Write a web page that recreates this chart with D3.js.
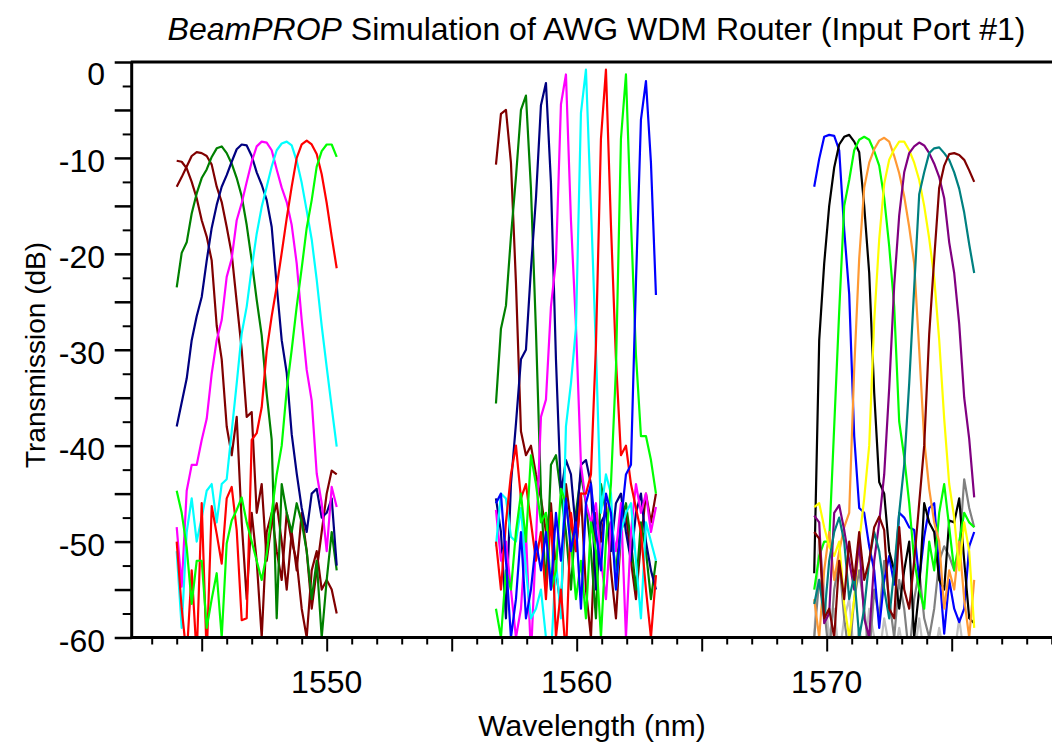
<!DOCTYPE html>
<html>
<head>
<meta charset="utf-8">
<script src="https://cdn.jsdelivr.net/npm/d3@7"></script>
<style>
  body { margin: 0; background: #fff; }
  svg { display: block; font-family: "Liberation Sans", Arial, sans-serif; }
</style>
</head>
<body>
<div id="chart"></div>
<script>
// Wavelength sample grids (nm), one per channel group
const wl1 = [1544.0,1544.2,1544.4,1544.6,1544.8,1545.0,1545.2,1545.4,1545.6,1545.8,1546.0,1546.2,1546.4,1546.6,1546.8,1547.0,1547.2,1547.4,1547.6,1547.8,1548.0,1548.2,1548.4,1548.6,1548.8,1549.0,1549.2,1549.4,1549.6,1549.8,1550.0,1550.2,1550.4]
const wl2 = [1556.77,1556.97,1557.17,1557.37,1557.57,1557.77,1557.97,1558.17,1558.37,1558.57,1558.77,1558.97,1559.17,1559.37,1559.57,1559.77,1559.97,1560.17,1560.37,1560.57,1560.77,1560.97,1561.17,1561.37,1561.57,1561.77,1561.97,1562.17,1562.37,1562.57,1562.77,1562.97,1563.17]
const wl3 = [1569.5,1569.7,1569.9,1570.1,1570.3,1570.5,1570.7,1570.9,1571.1,1571.3,1571.5,1571.7,1571.9,1572.1,1572.3,1572.5,1572.7,1572.9,1573.1,1573.3,1573.5,1573.7,1573.9,1574.1,1574.3,1574.5,1574.7,1574.9,1575.1,1575.3,1575.5,1575.7,1575.9]

// Group 1 transmission (dB)
const g1MaroonB = [-10.3,-10.4,-11.1,-12.5,-14.2,-16.5,-18.2,-20.7,-27.5,-31,-38,-41,-37,-48,-56,-47,-52,-60,-49,-47,-51,-54,-47,-50,-52,-57,-60,-53,-51,-55,-54,-55,-57.5]
const g1MaroonA = [-13,-12,-10.9,-9.8,-9.4,-9.5,-9.8,-10.7,-13,-14.6,-17.2,-20,-25,-30,-37,-36.5,-47,-44,-52,-48,-46,-50,-55,-49,-53,-47,-51,-57,-53,-49,-45,-42.6,-43]
const g1Green = [-23.5,-19.9,-18.8,-15.8,-13.7,-12.1,-11.2,-9.9,-9,-8.8,-9.5,-10.6,-12.1,-14,-17,-20.7,-24.8,-28.5,-34.6,-39.4,-58,-44,-47,-49,-46,-48,-51,-56,-52,-60,-54,-49,-53]
const g1Navy = [-38,-35.5,-33,-29,-26.5,-24.5,-20.7,-17.3,-14.9,-13,-11.8,-10.4,-9.1,-8.6,-8.7,-9.8,-11.5,-12.8,-14.4,-17.2,-23.3,-29,-32.4,-38.8,-42.9,-46.5,-49,-45,-44.5,-47.5,-47,-45.5,-52.5]
const g1Magenta = [-48.5,-54.7,-44.7,-42,-42,-39.4,-37.2,-32.5,-29,-26.9,-22.4,-20.5,-16.5,-14.7,-12.5,-10.4,-8.8,-8.3,-8.4,-9.2,-11.2,-13.1,-14.6,-17,-21,-26.9,-32.1,-35.3,-42.9,-46,-51,-44.3,-46.4]
const g1Cyan = [-51,-59,-49,-45.5,-50,-47.5,-44.7,-44,-48,-44,-43.5,-38.5,-33.5,-28.3,-25.5,-21.5,-17.9,-15.1,-13,-10.9,-9.2,-8.5,-8.3,-8.7,-10.3,-12.6,-15.5,-18.5,-22.7,-27.5,-31.8,-36,-40.1]
const g1Red = [-50,-57,-62,-53,-62,-46,-62,-46.3,-49.2,-52.3,-45.5,-44.3,-48.8,-58.2,-58,-39.4,-38.7,-36,-30.1,-26.5,-23.4,-19.9,-16.3,-13,-10,-8.6,-8.2,-8.6,-9.6,-11.7,-14.7,-18.2,-21.5]
const g1Lime = [-44.7,-47,-50.6,-56.5,-52,-52,-59,-56,-53.3,-60,-50.2,-47.8,-46.7,-45.4,-48,-50,-52,-54,-51.3,-47,-43,-40,-34.2,-30,-25.5,-21.5,-17.3,-14.4,-10.9,-9.3,-8.6,-8.6,-9.9]

// Group 2 transmission (dB)
const g2Maroon = [-10.7,-5.4,-5,-10.5,-23,-38.5,-41,-40,-43,-45.5,-49,-46,-53,-57,-44,-48,-51,-45,-55,-60,-47,-50,-46,-53,-58,-49,-47,-52,-56,-50,-45,-48,-45]
const g2Green = [-35.6,-27.8,-25.4,-18.2,-12,-5,-3.5,-13.2,-28,-45,-55,-42,-41,-45,-49,-55,-47,-43,-46,-51,-58,-44,-47,-49,-53,-48,-46,-50,-55,-48,-51,-56,-52]
const g2Navy = [-45.5,-49,-58,-44,-37.7,-31,-30,-21.6,-14.2,-4.5,-2.2,-12.6,-31,-45,-41.5,-43,-49,-42,-41.5,-44,-55,-48,-47,-51,-46,-45,-49,-52,-47,-45,-50,-53,-55]
const g2Magenta = [-46.7,-52,-50,-55,-60,-57,-49,-62,-50,-37,-35.2,-25.5,-20.7,-4.4,-1.3,-16.5,-27.5,-42,-46,-48,-46,-52,-56,-48,-51,-46,-60,-49,-44,-47,-45,-49,-46.4]
const g2Cyan = [-50.5,-45,-45.5,-49.5,-50,-46.5,-53,-58,-57,-55,-60,-62,-52,-58,-38,-33.5,-27.7,-5.3,-0.8,-15,-30,-47,-43,-45,-55,-49,-47,-46,-52,-58,-48,-50,-52]
const g2Red = [-50,-55,-48,-43,-40,-45.5,-44,-48,-52,-49,-56,-47,-60,-55,-62,-47,-51,-45,-45,-43,-29.5,-8,-0.8,-17,-31,-41,-40,-44,-46.5,-49,-55,-60,-53.5]
const g2Lime = [-57,-60,-53,-55,-49,-45,-50,-41,-44,-48,-47,-55,-53,-44.5,-46,-50,-56,-52,-58,-48,-51,-60,-50,-44,-32,-8,-1.3,-16.5,-30.5,-39,-39,-41.5,-45]
const g2Blue = [-46,-45,-52,-60,-56,-49,-58,-55,-50,-53,-49,-55,-47,-52,-45.5,-51,-48,-57,-46,-44,-49,-53,-45,-47,-55,-48,-43,-42,-23,-6,-2,-10.5,-24.3]

// Group 3 transmission (dB)
const g3Silver = [-60,-49.5,-55,-60,-57,-62,-58,-56,-62,-59,-62,-57,-60,-62,-58,-61,-62,-59,-62,-60,-62,-58,-62,-61,-62,-59,-62,-60,-62,-58,-62,-61,-62]
const g3Gray = [-60,-54,-57,-62,-55,-52,-58,-62,-56,-53,-57,-62,-55,-58,-52,-56,-60,-54,-57,-62,-56,-53,-58,-60,-57,-52,-50.5,-51.5,-53,-51,-43.5,-46.5,-48.5]
const g3Blue = [-13,-10.1,-7.8,-7.6,-7.7,-9.2,-17.5,-24.2,-39,-46.5,-47,-50.5,-53,-59,-54,-51.5,-54.5,-47,-47.5,-48.5,-48.8,-54,-49.5,-46.5,-46,-53,-59.6,-54,-57,-58.4,-57,-50.5,-49]
const g3Black = [-53.3,-29,-21,-15,-11,-8.6,-7.8,-7.6,-8.3,-9.4,-15,-22,-34.5,-43.8,-45,-51,-53,-57,-53,-50,-60,-55,-46,-48,-49,-54,-55,-47.8,-48,-45.5,-52,-58,-58.5]
const g3Lime = [-55,-51.5,-50,-50,-38,-26,-15,-12.3,-9.2,-8.1,-7.8,-8.1,-9.3,-10.8,-14.2,-19.2,-25.5,-37.5,-41.2,-46,-52,-55,-57,-50,-53,-47,-44,-48.5,-53,-50,-47,-48,-48.5]
const g3Orange = [-56,-60,-53,-49,-54,-51,-48.5,-47,-32,-20.5,-13.1,-10.5,-9.1,-8.2,-7.9,-8.3,-9.8,-11.6,-14,-17.2,-21,-30,-39.4,-44.5,-48,-50,-57,-53,-55,-50,-56,-60,-54]
const g3Yellow = [-46.4,-46,-48.5,-50.5,-51.5,-50,-56.5,-60,-56,-50,-45.5,-40,-27,-18.5,-12.7,-10.2,-9.1,-8.3,-8.3,-9.2,-10.5,-12.3,-15,-18.4,-22.5,-29,-37.2,-44,-47.5,-53,-48,-51,-59]
const g3Purple = [-47.3,-48,-58.5,-57.5,-47,-46.2,-48.8,-52,-55,-50,-58,-60,-52,-48,-43,-34,-23.3,-16,-11.5,-9.5,-8.8,-8.4,-8.7,-9.5,-10.6,-12,-14.2,-18.8,-22,-27.3,-35,-39.3,-45.4]
const g3Teal = [-56.5,-54,-58,-52,-49,-47.5,-50,-56,-53.5,-60,-57,-52,-49,-51,-55,-58,-53,-47,-42,-33.5,-23.5,-13.8,-11.5,-9.5,-9,-8.9,-9.5,-10.2,-11.5,-13.2,-15.7,-19,-22]
const g3Maroon = [-49,-49.7,-58,-57,-60,-52,-56,-50,-54,-49,-54,-52,-48.5,-47.4,-48.8,-57,-58,-48.5,-55,-57,-52,-46,-40,-28.4,-20.5,-13.1,-10.8,-9.6,-9.5,-9.7,-10.2,-11.3,-12.5]

// Axis tick labels
const xLabels = [1550, 1560, 1570]
const yLabels = [0, -10, -20, -30, -40, -50, -60]

const series = [
    { wl: wl1, db: g1MaroonB, color: "#800000" },
    { wl: wl1, db: g1MaroonA, color: "#800000" },
    { wl: wl1, db: g1Green, color: "#008000" },
    { wl: wl1, db: g1Navy, color: "#000080" },
    { wl: wl1, db: g1Magenta, color: "#ff00ff" },
    { wl: wl1, db: g1Cyan, color: "#00ffff" },
    { wl: wl1, db: g1Red, color: "#ff0000" },
    { wl: wl1, db: g1Lime, color: "#00ff00" },
    { wl: wl2, db: g2Maroon, color: "#800000" },
    { wl: wl2, db: g2Green, color: "#008000" },
    { wl: wl2, db: g2Navy, color: "#000080" },
    { wl: wl2, db: g2Magenta, color: "#ff00ff" },
    { wl: wl2, db: g2Cyan, color: "#00ffff" },
    { wl: wl2, db: g2Red, color: "#ff0000" },
    { wl: wl2, db: g2Lime, color: "#00ff00" },
    { wl: wl2, db: g2Blue, color: "#0000ff" },
    { wl: wl3, db: g3Silver, color: "#c0c0c0" },
    { wl: wl3, db: g3Gray, color: "#808080" },
    { wl: wl3, db: g3Blue, color: "#0000ff" },
    { wl: wl3, db: g3Black, color: "#000000" },
    { wl: wl3, db: g3Lime, color: "#00ff00" },
    { wl: wl3, db: g3Orange, color: "#ff9933" },
    { wl: wl3, db: g3Yellow, color: "#ffff00" },
    { wl: wl3, db: g3Purple, color: "#800080" },
    { wl: wl3, db: g3Teal, color: "#008080" },
    { wl: wl3, db: g3Maroon, color: "#800000" },
]

const width = 1052, height = 744
const plot = { left: 131.7, right: 1051.7, top: 62, bottom: 637.5 }

const xScale = d3.scaleLinear().domain([1542.2, 1579]).range([plot.left, plot.right])
const yScale = d3.scaleLinear().domain([-60, 0]).range([plot.bottom, plot.top])

const svg = d3.select("#chart").append("svg")
    .attr("width", width)
    .attr("height", height)

// Title
const title = svg.append("text")
    .attr("x", 596.5)
    .attr("y", 40)
    .attr("text-anchor", "middle")
    .attr("font-size", 32)
    .attr("fill", "#000")
title.append("tspan").attr("font-style", "italic").text("BeamPROP")
title.append("tspan").text(" Simulation of AWG WDM Router (Input Port #1)")

// Clip for the curves
svg.append("clipPath").attr("id", "plot-clip")
    .append("rect")
    .attr("x", plot.left)
    .attr("y", plot.top)
    .attr("width", plot.right - plot.left + 2)
    .attr("height", plot.bottom - plot.top)

const line = d3.line()
    .x(d => xScale(d[0]))
    .y(d => yScale(d[1]))

svg.append("g")
    .attr("clip-path", "url(#plot-clip)")
    .selectAll("path")
    .data(series)
    .join("path")
    .attr("d", s => line(s.wl.map((w, i) => [w, s.db[i]])))
    .attr("fill", "none")
    .attr("stroke", s => s.color)
    .attr("stroke-width", 2.2)
    .attr("stroke-linejoin", "round")

// x axis ticks: minor every 1 nm, major every 5 nm
const xMinor = d3.range(1543, 1580).filter(v => v % 5 !== 0)
const xMajor = d3.range(1545, 1580, 5)

svg.append("g")
    .attr("transform", `translate(0,${plot.bottom})`)
    .call(d3.axisBottom(xScale).tickValues(xMinor).tickSize(7).tickSizeOuter(0).tickFormat(""))
    .call(g => g.select(".domain").remove())
    .call(g => g.selectAll("line").attr("stroke-width", 2))

svg.append("g")
    .attr("transform", `translate(0,${plot.bottom})`)
    .call(d3.axisBottom(xScale).tickValues(xMajor).tickSize(14).tickSizeOuter(0).tickFormat(""))
    .call(g => g.select(".domain").remove())
    .call(g => g.selectAll("line").attr("stroke-width", 2))

// y axis ticks: minor every 2.5 dB, major every 5 dB
const yMajor = d3.range(0, -61, -5)
const yMinor = d3.range(-2.5, -60, -5)

svg.append("g")
    .attr("transform", `translate(${plot.left},0)`)
    .call(d3.axisLeft(yScale).tickValues(yMinor).tickSize(9).tickSizeOuter(0).tickFormat(""))
    .call(g => g.select(".domain").remove())
    .call(g => g.selectAll("line").attr("stroke-width", 2))

svg.append("g")
    .attr("transform", `translate(${plot.left},0)`)
    .call(d3.axisLeft(yScale).tickValues(yMajor).tickSize(17).tickSizeOuter(0).tickFormat(""))
    .call(g => g.select(".domain").remove())
    .call(g => g.selectAll("line").attr("stroke-width", 2.5))

// Frame lines: left, bottom, top
svg.append("line")
    .attr("x1", plot.left).attr("x2", plot.left)
    .attr("y1", plot.top).attr("y2", plot.bottom)
    .attr("stroke", "#000").attr("stroke-width", 3)
svg.append("line")
    .attr("x1", plot.left - 1).attr("x2", width)
    .attr("y1", plot.bottom).attr("y2", plot.bottom)
    .attr("stroke", "#000").attr("stroke-width", 3)
svg.append("line")
    .attr("x1", plot.left - 1).attr("x2", width)
    .attr("y1", plot.top).attr("y2", plot.top)
    .attr("stroke", "#000").attr("stroke-width", 3)

// Tick labels
svg.append("g")
    .selectAll("text")
    .data(xLabels)
    .join("text")
    .attr("x", d => xScale(d))
    .attr("y", 693)
    .attr("text-anchor", "middle")
    .attr("font-size", 32)
    .text(d => d)

svg.append("g")
    .selectAll("text")
    .data(yLabels)
    .join("text")
    .attr("x", 105)
    .attr("y", d => yScale(d) + (d === 0 ? 11 : 3))
    .attr("dy", "0.36em")
    .attr("text-anchor", "end")
    .attr("font-size", 32)
    .text(d => d)

// Axis titles
svg.append("text")
    .attr("x", 592)
    .attr("y", 736)
    .attr("text-anchor", "middle")
    .attr("font-size", 30)
    .text("Wavelength (nm)")

svg.append("text")
    .attr("transform", "translate(45,355) rotate(-90)")
    .attr("text-anchor", "middle")
    .attr("font-size", 28)
    .text("Transmission (dB)")
</script>
</body>
</html>
